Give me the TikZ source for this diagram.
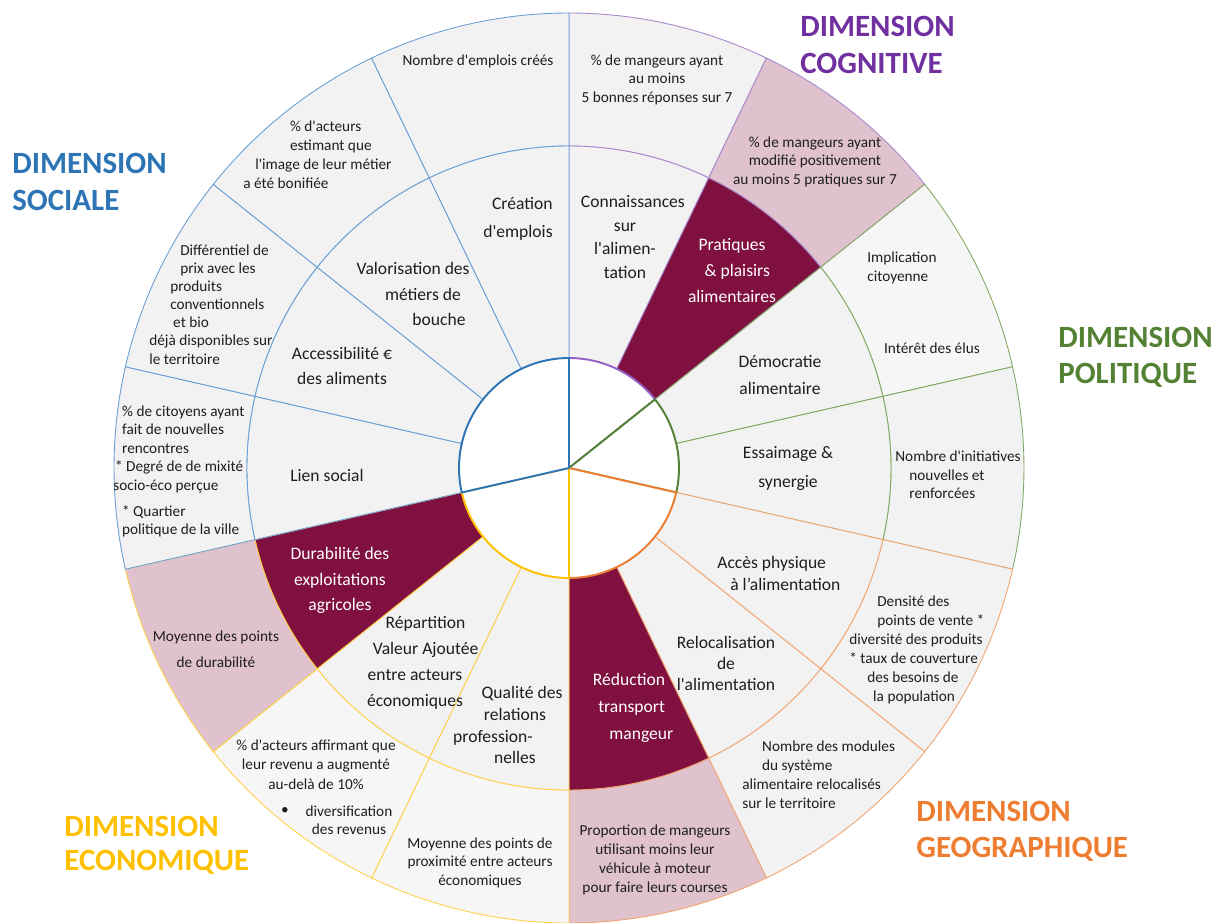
\documentclass[tikz,border=0pt]{standalone}
\usepackage{fontspec}
\setmainfont{Carlito}[Ligatures=TeXOff]

\definecolor{socblue}{HTML}{2E75B6}
\definecolor{socline}{HTML}{6A9FD4}
\definecolor{cogpurple}{HTML}{7030A0}
\definecolor{cogpie}{HTML}{9562C6}
\definecolor{cogline}{HTML}{A988CC}
\definecolor{polgreen}{HTML}{548235}
\definecolor{polline}{HTML}{82A862}
\definecolor{geoorange}{HTML}{ED7D31}
\definecolor{geoline}{HTML}{F2A56E}
\definecolor{ecogold}{HTML}{FFC000}
\definecolor{ecoline}{HTML}{FFD04A}
\definecolor{darkind}{HTML}{7F103F}
\definecolor{pinkind}{HTML}{DFC2CD}
\definecolor{grayA}{HTML}{F2F2F2}
\definecolor{grayB}{HTML}{F6F6F6}
\definecolor{txt}{HTML}{1E1E1E}

\begin{document}
\begin{tikzpicture}[x=0.02cm, y=0.02cm,
    ringtext/.style={font=\fontsize{10}{14.7}\selectfont, text=txt, align=center, inner sep=0pt},
    indtext/.style={font=\fontsize{8.7}{10.5}\selectfont, text=txt, align=center, inner sep=0pt},
    dimtext/.style={font=\fontsize{17.6}{20.7}\selectfont\bfseries, align=left, inner sep=0pt, anchor=west}]
	\useasboundingbox (-569,-455) rectangle (646,468);

	% the two rings, 14 sectors
	\foreach \k/\fout/\fin/\lcol in {0/grayA/grayA/cogline, 1/pinkind/darkind/cogline,
	    2/grayB/grayA/polline, 3/grayA/grayA/polline,
	    4/grayA/grayA/geoline, 5/grayA/grayA/geoline, 6/pinkind/darkind/geoline,
	    7/grayB/grayA/ecoline, 8/grayB/grayA/ecoline, 9/pinkind/darkind/ecoline,
	    10/grayA/grayA/socline, 11/grayA/grayA/socline, 12/grayA/grayA/socline, 13/grayA/grayA/socline}
	{
		\pgfmathsetmacro{\sa}{90-\k*360/14}
		\pgfmathsetmacro{\sb}{\sa-360/14}
		\draw[\lcol, fill=\fout, line width=0.5pt] (\sa:322) arc[start angle=\sa, end angle=\sb, radius=322]
			-- (\sb:455) arc[start angle=\sb, end angle=\sa, radius=455] -- cycle;
		\draw[\lcol, fill=\fin, line width=0.5pt] (\sa:110) arc[start angle=\sa, end angle=\sb, radius=110]
			-- (\sb:322) arc[start angle=\sb, end angle=\sa, radius=322] -- cycle;
	}

	% centre
	\foreach \sa/\sb/\col in {38.5714/90/cogpie, -12.8571/38.5714/polgreen, -90/-12.8571/geoorange,
	    -167.1429/-90/ecogold, 90/192.8571/socblue}
		\draw[\col, line width=1.1pt, fill=white, line join=round] (0,0) -- (\sa:110)
			arc[start angle=\sa, end angle=\sb, radius=110] -- cycle;

	% cognitive
	\node[ringtext, font=\fontsize{10}{13.6}\selectfont] (conn) at (56,231) {\hspace*{9pt}Connaissances\\sur\\l'alimen-\\tation};
	\node[ringtext, text=white] (prat) at (163,197.5) {Pratiques\\\hspace*{6pt}\& plaisirs\\alimentaires};
	\node[indtext] (connInd) at (88,388.5) {\% de mangeurs ayant\\au moins\\5 bonnes réponses sur 7};
	\node[indtext] (pratInd) at (246,306.5) {\% de mangeurs ayant\\modifié positivement\\au moins 5 pratiques sur 7};

	% political
	\node[ringtext, font=\fontsize{10}{15.9}\selectfont] (demo) at (211,93) {Démocratie\\alimentaire};
	\node[ringtext, font=\fontsize{10}{16.4}\selectfont] (essa) at (219,-0.5) {Essaimage \&\\synergie};
	\node[indtext, anchor=west, align=left] (impl) at (298,200) {Implication\\citoyenne};
	\node[indtext] (elus) at (363,120) {Intérêt des élus};
	\node[indtext, anchor=west, align=left] (init) at (326,-7) {Nombre d'initiatives\\\hspace*{8pt}nouvelles et\\\hspace*{8pt}renforcées};

	% geographic
	\node[ringtext, anchor=west, align=left, font=\fontsize{10}{13}\selectfont] (acph) at (148,-105.5) {Accès physique\\\hspace*{7.4pt}à l’alimentation};
	\node[ringtext, font=\fontsize{10}{12.2}\selectfont] (relo) at (157,-195.5) {Relocalisation\\de\\l'alimentation};
	\node[ringtext, text=white, font=\fontsize{10}{15.3}\selectfont] (redu) at (60,-240) {Réduction\\\hspace*{3pt}transport\\\hspace*{14pt}mangeur};
	\node[indtext, anchor=west, align=left, font=\fontsize{8.7}{10.8}\selectfont] (dens) at (280,-181.5) {\hspace*{15.9pt}Densité des\\\hspace*{15.9pt}points de vente *\\diversité des produits\\* taux de couverture\\\hspace*{10.2pt}des besoins de\\\hspace*{13.6pt}la population};
	\node[indtext, anchor=west, align=left, font=\fontsize{8.7}{10.8}\selectfont] (modu) at (173,-306.5) {\hspace*{11.3pt}Nombre des modules\\\hspace*{11.3pt}du système\\alimentaire relocalisés\\sur le territoire};
	\node[indtext, font=\fontsize{8.7}{10.9}\selectfont] (prop) at (86,-392) {Proportion de mangeurs\\utilisant moins leur\\véhicule à moteur\\pour faire leurs courses};

	% economic
	\node[ringtext, font=\fontsize{10}{12.5}\selectfont] (qual) at (-54,-257) {\hspace*{8pt}Qualité des\\relations\\profession-\rule{25pt}{0pt}\\nelles};
	\node[ringtext] (repa) at (-154,-195) {\hspace*{12pt}Répartition\\\hspace*{12pt}Valeur Ajoutée\\entre acteurs\\économiques};
	\node[ringtext, text=white] (dura) at (-229,-112.5) {Durabilité des\\exploitations\\agricoles};
	\node[indtext, font=\fontsize{8.7}{14.7}\selectfont] (moyd) at (-353,-181) {Moyenne des points\\de durabilité};
	\node[indtext, font=\fontsize{8.7}{11}\selectfont] (reve) at (-253,-296.5) {\% d'acteurs affirmant que\\leur revenu a augmenté\\au-delà de 10\%};
	\node[indtext] (bull) at (-284,-343) {•};
	\node[indtext] (dive) at (-220,-352) {diversification\\des revenus};
	\node[indtext] (prox) at (-89,-394.5) {Moyenne des points de\\proximité entre acteurs\\économiques};

	% social
	\node[ringtext] (lien) at (-242,-7) {Lien social};
	\node[indtext, anchor=west, align=left] (cito) at (-456,-3.5) {\hspace*{5pt}\% de citoyens ayant\\\hspace*{5pt}fait de nouvelles\\\hspace*{5pt}rencontres\\\hspace*{1pt}* Degré de de mixité\\socio-éco perçue\\[4.5pt]\hspace*{5pt}* Quartier\\\hspace*{5pt}politique de la ville};
	\node[ringtext] (acce) at (-227,102) {Accessibilité €\\des aliments};
	\node[indtext, anchor=west, align=left, font=\fontsize{8.7}{10.3}\selectfont] (diff) at (-420,163.5) {\hspace*{17.6pt}Différentiel de\\\hspace*{17.6pt}prix avec les\\\hspace*{11.9pt}produits\\\hspace*{11.9pt}conventionnels\\\hspace*{13.6pt}et bio\\déjà disponibles sur\\le territoire};
	\node[ringtext, anchor=east, align=right] (valo) at (-99,174) {Valorisation des\\métiers de\rule{5pt}{0pt}\\bouche\rule{2.3pt}{0pt}};
	\node[indtext, anchor=west, align=left, font=\fontsize{8.7}{10.9}\selectfont] (imag) at (-326,313) {\hspace*{26.6pt}\% d'acteurs\\\hspace*{26.6pt}estimant que\\\hspace*{6.8pt}l'image de leur métier\\a été bonifiée};
	\node[ringtext, anchor=east, align=right, font=\fontsize{10}{15.9}\selectfont] (crea) at (-16,249) {Création\\d'emplois};
	\node[indtext] (empl) at (-91,407) {Nombre d'emplois créés};

	% dimension names
	\node[dimtext, text=socblue] (dimSoc) at (-557,286) {DIMENSION\\SOCIALE};
	\node[dimtext, text=cogpurple] (dimCog) at (231,423) {DIMENSION\\COGNITIVE};
	\node[dimtext, text=polgreen] (dimPol) at (489,110.5) {DIMENSION\\POLITIQUE};
	\node[dimtext, text=geoorange] (dimGeo) at (347,-363.5) {DIMENSION\\GEOGRAPHIQUE};
	\node[dimtext, text=ecogold, font=\fontsize{17.6}{19.3}\selectfont\bfseries] (dimEco) at (-505,-377) {DIMENSION\\ECONOMIQUE};
\end{tikzpicture}
\end{document}
